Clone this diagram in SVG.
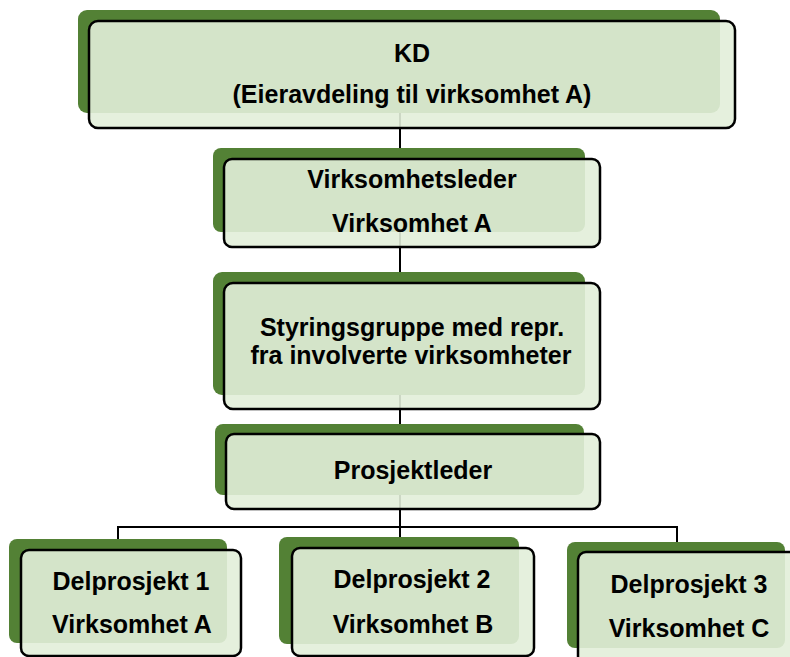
<svg xmlns="http://www.w3.org/2000/svg" width="790" height="657" viewBox="0 0 790 657">
<style>
.bk{fill:#538135;stroke:none}
.fr{fill:#e2eed9;fill-opacity:0.9;stroke:#000;stroke-width:2.5}
.t{font-family:"Liberation Sans",Arial,sans-serif;font-weight:bold;font-size:25px;fill:#000;text-anchor:middle}
.c{fill:none;stroke:#000;stroke-width:2}
</style>
<rect width="790" height="657" fill="#fff"/>
<g id="connectors">
<line class="c" x1="400" y1="100" x2="400" y2="165"/>
<line class="c" x1="400" y1="225" x2="400" y2="290"/>
<line class="c" x1="400" y1="390" x2="400" y2="440"/>
<line class="c" x1="400" y1="495" x2="400" y2="542"/>
<polyline class="c" points="118,545 118,527 677,527 677,548"/>
</g>
<g id="kd">
<rect class="bk" x="78" y="10" width="642" height="103" rx="9"/>
<rect class="fr" x="89" y="21" width="646" height="107" rx="9"/>
<text class="t" x="412" y="62">KD</text>
<text class="t" x="412" y="103">(Eieravdeling til virksomhet A)</text>
</g>
<g id="virksomhetsleder">
<rect class="bk" x="213" y="148" width="372" height="84" rx="8"/>
<rect class="fr" x="224" y="159" width="376" height="88" rx="8"/>
<text class="t" x="412" y="188">Virksomhetsleder</text>
<text class="t" x="412" y="232">Virksomhet A</text>
</g>
<g id="styringsgruppe">
<rect class="bk" x="213" y="272" width="372" height="123" rx="9"/>
<rect class="fr" x="224" y="283" width="376" height="126" rx="9"/>
<text class="t" x="412" y="336">Styringsgruppe med repr.</text>
<text class="t" x="411" y="364">fra involverte virksomheter</text>
</g>
<g id="prosjektleder">
<rect class="bk" x="215" y="424" width="369" height="71" rx="8"/>
<rect class="fr" x="226" y="434" width="374" height="75" rx="8"/>
<text class="t" x="413" y="479">Prosjektleder</text>
</g>
<g id="delprosjekt1">
<rect class="bk" x="9" y="539" width="218" height="104" rx="8"/>
<rect class="fr" x="21" y="550" width="220" height="106" rx="8"/>
<text class="t" x="131" y="590">Delprosjekt 1</text>
<text class="t" x="132" y="633">Virksomhet A</text>
</g>
<g id="delprosjekt2">
<rect class="bk" x="279" y="537" width="240" height="107" rx="8"/>
<rect class="fr" x="292" y="548" width="242" height="108" rx="8"/>
<text class="t" x="412" y="588">Delprosjekt 2</text>
<text class="t" x="413" y="633">Virksomhet B</text>
</g>
<g id="delprosjekt3">
<rect class="bk" x="567" y="542" width="218" height="106" rx="8"/>
<rect class="fr" x="578" y="552" width="222" height="112" rx="8"/>
<text class="t" x="689" y="593">Delprosjekt 3</text>
<text class="t" x="689" y="637">Virksomhet C</text>
</g>
</svg>
